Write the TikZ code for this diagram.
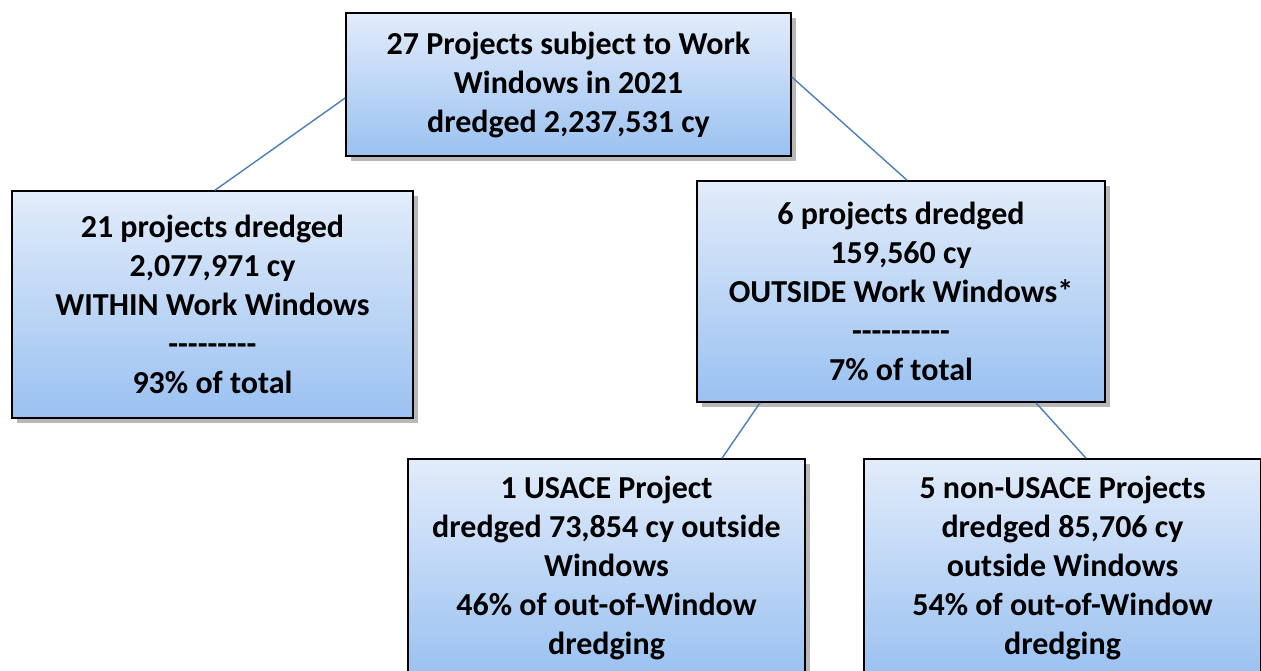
\documentclass[tikz,border=0pt]{standalone}
\usepackage{fontspec}
\setmainfont{Carlito}
\usepackage{xcolor}
\usetikzlibrary{positioning,shadows}
\definecolor{boxtop}{HTML}{E2ECFA}
\definecolor{boxbot}{HTML}{9AC1F1}
\definecolor{linkblue}{HTML}{4A7EBB}
\newcommand\dashrow[1]{\foreach\d in {1,...,#1}{-\kern0pt}}

\begin{document}
\begin{tikzpicture}[x=1pt,y=-1pt,
  box/.style={draw=black,line width=1.6pt,top color=boxtop,bottom color=boxbot,
    align=center,font=\fontsize{32}{39}\selectfont\bfseries,inner sep=0pt,
    drop shadow={shadow xshift=5pt,shadow yshift=-5pt,fill=black!28,opacity=1}},
  link/.style={draw=linkblue,line width=1.4pt}]
  \useasboundingbox (0,0) rectangle (1261,670);
  \clip (0,0) rectangle (1261,670);
  \node(all) [box,minimum width=445pt,minimum height=143pt] at (568.5,84.5)
    {27 Projects subject to Work\\Windows in 2021\\dredged 2,237,531 cy};
  \node(within) [box,minimum width=401pt,minimum height=227pt] at (212.5,304.5)
    {21 projects dredged\\2,077,971 cy\\WITHIN Work Windows\\\dashrow{9}\\93\% of total};
  \node(outside) [box,minimum width=408pt,minimum height=221pt] at (901,291.5)
    {6 projects dredged\\159,560 cy\\OUTSIDE Work Windows*\\\dashrow{10}\\7\% of total};
  \node(usace) [box,minimum width=397pt,minimum height=218pt] at (606.5,568)
    {1 USACE Project\\dredged 73,854 cy outside\\Windows\\46\% of out-of-Window\\dredging};
  \node(nonusace) [box,minimum width=397pt,minimum height=218pt] at (1062.5,568)
    {5 non-USACE Projects\\dredged 85,706 cy\\outside Windows\\54\% of out-of-Window\\dredging};
  \draw[link] ([yshift=-13.5pt]all.west) -- ([xshift=2.5pt]within.north);
  \draw[link] ([yshift=7.5pt]all.east) -- ([xshift=6pt]outside.north);
  \draw[link] ([xshift=-141pt]outside.south) -- ([xshift=115.5pt]usace.north);
  \draw[link] ([xshift=135pt]outside.south) -- ([xshift=23.5pt]nonusace.north);
\end{tikzpicture}
\end{document}
